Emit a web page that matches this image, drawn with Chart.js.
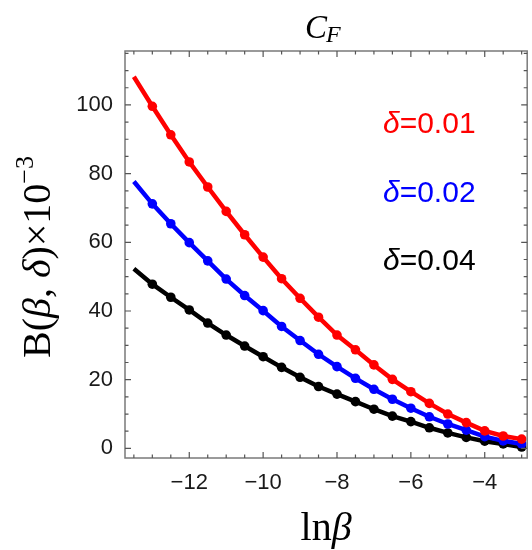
<!DOCTYPE html>
<html>
<head>
<meta charset="utf-8">
<script src="https://cdn.jsdelivr.net/npm/chart.js@4"></script>
<style>
html,body{margin:0;padding:0;background:#fff;}
#wrap{width:532px;height:550px;}
</style>
</head>
<body>
<div id="wrap"><canvas id="c" width="532" height="550"></canvas></div>
<script>
// ---- data ----
const lnBeta = [-13.5,-13,-12.5,-12,-11.5,-11,-10.5,-10,-9.5,-9,-8.5,-8,-7.5,-7,-6.5,-6,-5.5,-5,-4.5,-4,-3.5,-3];
const delta001 = [108.2,99.6,91.3,83.4,76.1,69.0,62.2,55.7,49.4,43.7,38.2,33.0,28.7,24.3,20.1,16.5,13.1,10.0,7.5,5.1,3.6,2.7];
const delta002 = [77.7,71.2,65.4,59.9,54.6,49.3,44.5,40.1,35.5,31.4,27.4,23.8,20.4,17.2,14.3,11.7,9.2,7.1,5.3,3.4,2.2,1.3];
const delta004 = [52.3,47.8,44.0,40.3,36.5,33.0,29.8,26.7,23.6,20.7,18.0,15.8,13.6,11.4,9.4,7.8,6.0,4.5,3.2,2.1,1.3,0.4];
const seriesLabels = ['0.01','0.02','0.04'];
const seriesColors = ['#ff0000','#0000ff','#000000'];
const xTickValues = [-12,-10,-8,-6,-4];
const yTickValues = [0,20,40,60,80,100];

const toXY = ys => ys.map((y,i)=>({x:lnBeta[i], y:y}));
const datasets = [delta001, delta002, delta004].map((vals,k)=>({
  label: 'δ=' + seriesLabels[k],
  data: toXY(vals),
  borderColor: seriesColors[k],
  backgroundColor: seriesColors[k],
  borderWidth: 4.5,
  pointRadius: ctx => ctx.dataIndex === 0 ? 0 : 4.8,
  pointBorderWidth: 0,
  pointStyle: 'circle',
  tension: 0
}));

const decor = {
  id: 'decor',
  afterDatasetsDraw(chart){
    const ctx = chart.ctx;
    const a = chart.chartArea;
    const xs = chart.scales.x, ys = chart.scales.y;
    ctx.save();
    // frame
    ctx.strokeStyle = '#7a7a7a';
    ctx.lineWidth = 1.5;
    ctx.strokeRect(a.left, a.top, a.right - a.left, a.bottom - a.top);
    // ticks
    ctx.lineWidth = 1.2;
    ctx.strokeStyle = '#555';
    const majLen = 6, minLen = 3.5;
    for (let v = -14; v <= -2; v += 0.5) {
      const p = xs.getPixelForValue(v);
      if (p < a.left + 1 || p > a.right - 1) continue;
      const L = (Math.abs(v % 2) < 1e-9) ? majLen : minLen;
      ctx.beginPath();
      ctx.moveTo(p, a.bottom); ctx.lineTo(p, a.bottom - L);
      ctx.moveTo(p, a.top); ctx.lineTo(p, a.top + L);
      ctx.stroke();
    }
    for (let v = 0; v <= 115; v += 5) {
      const p = ys.getPixelForValue(v);
      if (p < a.top + 1 || p > a.bottom - 1) continue;
      const L = (v % 20 === 0) ? majLen : minLen;
      ctx.beginPath();
      ctx.moveTo(a.left, p); ctx.lineTo(a.left + L, p);
      ctx.moveTo(a.right, p); ctx.lineTo(a.right - L, p);
      ctx.stroke();
    }
    const serif = '"Liberation Serif","Times New Roman",serif';
    const sans = '"Liberation Sans",Arial,sans-serif';
    ctx.fillStyle = '#000';
    ctx.textBaseline = 'alphabetic';
    // title C_F
    ctx.font = 'italic 33px ' + serif;
    const cw = ctx.measureText('C').width;
    const tx = 305;
    ctx.textAlign = 'left';
    ctx.fillText('C', tx, 38);
    ctx.font = 'italic 24px ' + serif;
    ctx.fillText('F', tx + cw - 1, 42);
    // x title lnβ
    ctx.font = '40px ' + serif;
    const lnw = ctx.measureText('ln').width;
    ctx.font = 'italic 40px ' + serif;
    const bw = ctx.measureText('β').width;
    const xx = (a.left + a.right) / 2 - (lnw + bw) / 2;
    ctx.font = '40px ' + serif;
    ctx.fillText('ln', xx, 540);
    ctx.font = 'italic 40px ' + serif;
    ctx.fillText('β', xx + lnw, 540);
    // y title
    const parts = [
      ['B(', '40px ' + serif, 0],
      ['β', 'italic 40px ' + serif, 0],
      [', ', '40px ' + serif, 0],
      ['δ', 'italic 40px ' + serif, 0],
      [')×10', '40px ' + serif, 0],
      ['−3', '26px ' + serif, -17]
    ];
    let total = 0;
    parts.forEach(p => { ctx.font = p[1]; p.push(ctx.measureText(p[0]).width); total += p[3]; });
    ctx.save();
    ctx.translate(50, 257);
    ctx.rotate(-Math.PI / 2);
    let px = -total / 2;
    parts.forEach(p => { ctx.font = p[1]; ctx.fillText(p[0], px, p[2]); px += p[3]; });
    ctx.restore();
    // legend labels
    const legY = [133, 202, 270];
    datasets.forEach((d, k) => {
      ctx.fillStyle = seriesColors[k];
      ctx.font = 'italic 30px ' + sans;
      ctx.fillText('δ', 383, legY[k]);
      const dw = ctx.measureText('δ').width;
      ctx.font = '30px ' + sans;
      ctx.fillText('=' + seriesLabels[k], 383 + dw, legY[k]);
    });
    ctx.restore();
  }
};

new Chart(document.getElementById('c'), {
  type: 'line',
  data: { datasets },
  options: {
    responsive: false,
    animation: false,
    layout: { padding: { top: 51, right: 1, left: 0, bottom: 0 } },
    plugins: { legend: { display: false }, title: { display: false }, tooltip: { enabled: false } },
    scales: {
      x: {
        type: 'linear',
        min: -13.74, max: -2.85,
        grid: { display: false, drawTicks: false },
        border: { display: false },
        afterBuildTicks: s => { s.ticks = xTickValues.map(v => ({ value: v })); },
        afterFit: s => { s.height = 92; },
        ticks: {
          padding: 12,
          maxRotation: 0,
          autoSkip: false,
          color: '#1a1a1a',
          font: { family: '"Liberation Sans",Arial,sans-serif', size: 22 },
          callback: v => (v < 0 ? '\u2212' + Math.abs(v) : String(v))
        }
      },
      y: {
        type: 'linear',
        min: -2.8, max: 115.7,
        grid: { display: false, drawTicks: false },
        border: { display: false },
        afterBuildTicks: s => { s.ticks = yTickValues.map(v => ({ value: v })); },
        afterFit: s => { s.width = 125; },
        ticks: {
          padding: 12,
          autoSkip: false,
          color: '#1a1a1a',
          font: { family: '"Liberation Sans",Arial,sans-serif', size: 22 },
          callback: v => String(v)
        }
      }
    }
  },
  plugins: [decor]
});
</script>
</body>
</html>
